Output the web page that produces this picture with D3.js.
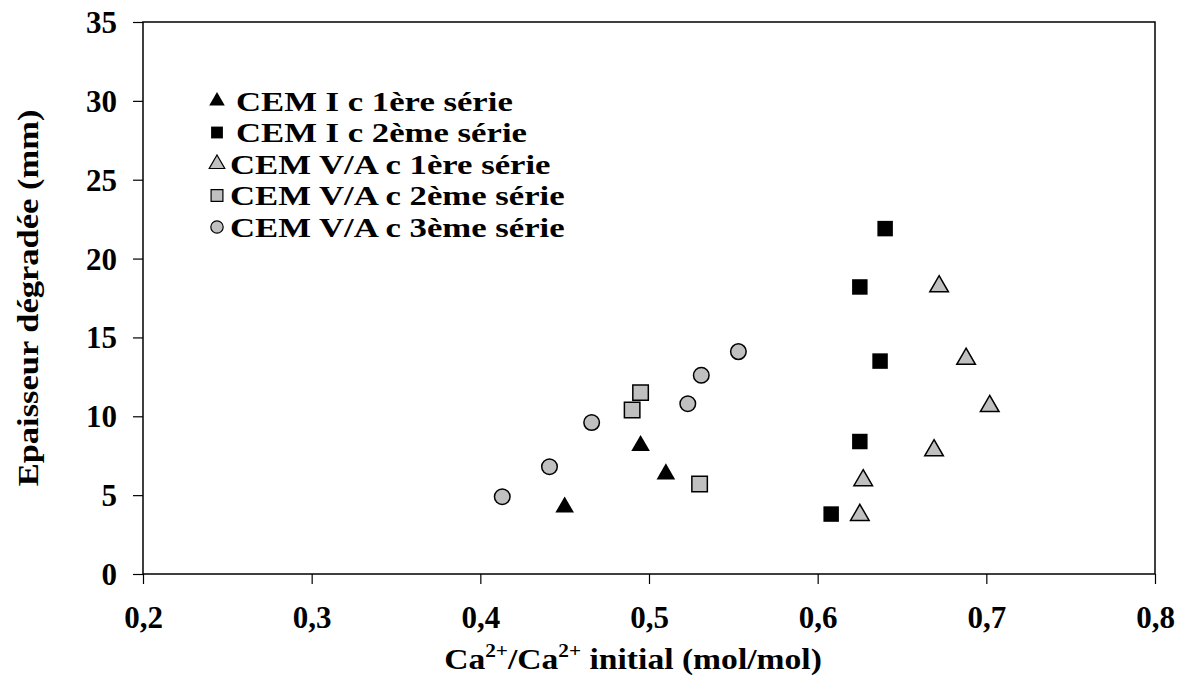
<!DOCTYPE html>
<html>
<head>
<meta charset="utf-8">
<script src="https://cdn.jsdelivr.net/npm/d3@7"></script>
<style>
	body { margin: 0; background: #fff; }
	text { font-family: "Liberation Serif", "Times New Roman", serif; font-weight: bold; fill: #000; }
</style>
</head>
<body>
<div id="chart"></div>
<script>
// series names
var seriesNames = ["CEM I c 1ère série", "CEM I c 2ème série", "CEM V/A c 1ère série", "CEM V/A c 2ème série", "CEM V/A c 3ème série"];

// values: [Ca2+/Ca2+ initial, thickness mm]
var cemI_1 = [[0.450, 4.3], [0.495, 8.2], [0.510, 6.4]];
var cemI_2 = [[0.640, 21.9], [0.625, 18.2], [0.637, 13.5], [0.625, 8.4], [0.608, 3.8]];
var cemVA_1 = [[0.672, 18.3], [0.688, 13.7], [0.702, 10.7], [0.669, 7.9], [0.627, 6.0], [0.625, 3.8]];
var cemVA_2 = [[0.495, 11.5], [0.490, 10.4], [0.530, 5.7]];
var cemVA_3 = [[0.413, 4.9], [0.441, 6.8], [0.466, 9.6], [0.523, 10.8], [0.531, 12.6], [0.553, 14.1]];

var xTicks = [0.2, 0.3, 0.4, 0.5, 0.6, 0.7, 0.8];
var yTicks = [0, 5, 10, 15, 20, 25, 30, 35];

var series = [
	{ name: seriesNames[0], data: cemI_1, shape: d3.symbolTriangle, fill: "#000" },
	{ name: seriesNames[1], data: cemI_2, shape: d3.symbolSquare, fill: "#000" },
	{ name: seriesNames[2], data: cemVA_1, shape: d3.symbolTriangle, fill: "#c0c0c0" },
	{ name: seriesNames[3], data: cemVA_2, shape: d3.symbolSquare, fill: "#c0c0c0" },
	{ name: seriesNames[4], data: cemVA_3, shape: d3.symbolCircle, fill: "#c0c0c0" }
];

var svg_width = 1183,
	svg_height = 677;

var plot = { left: 143, right: 1155, top: 22, bottom: 574 };

var xScale = d3.scaleLinear().domain([0.2, 0.8]).range([plot.left, plot.right]);
var yScale = d3.scaleLinear().domain([0, 35]).range([plot.bottom, plot.top]);

var svg = d3.select("#chart").append("svg")
	.attr("width", svg_width)
	.attr("height", svg_height);

// frame
svg.append("rect")
	.attr("x", plot.left).attr("y", plot.top)
	.attr("width", plot.right - plot.left).attr("height", plot.bottom - plot.top)
	.attr("fill", "none").attr("stroke", "#000").attr("stroke-width", 1.5);

// X-axis
var xAxis = d3.axisBottom(xScale).tickValues(xTicks).tickSize(10).tickPadding(22)
	.tickFormat(function(d) { return d3.format(".1f")(d).replace(".", ","); });
var gx = svg.append("g")
	.attr("transform", "translate(0," + plot.bottom + ")")
	.call(xAxis);
gx.select(".domain").remove();
gx.selectAll("line").attr("stroke", "#000").attr("stroke-width", 1.2);
gx.selectAll("text").style("font-size", "31px").attr("dy", "0.71em");

// Y-axis
var yAxis = d3.axisLeft(yScale).tickValues(yTicks).tickSize(10).tickPadding(16);
var gy = svg.append("g")
	.attr("transform", "translate(" + plot.left + ",0)")
	.call(yAxis);
gy.select(".domain").remove();
gy.selectAll("line").attr("stroke", "#000").attr("stroke-width", 1.2);
gy.selectAll("text").style("font-size", "31px").attr("dy", "0.34em");

// axis titles
var xt = svg.append("text")
	.attr("transform", "translate(633,669) scale(1.12,1)")
	.attr("text-anchor", "middle")
	.style("font-size", "30px");
xt.append("tspan").text("Ca");
xt.append("tspan").attr("dy", -12).style("font-size", "19px").text("2+");
xt.append("tspan").attr("dy", 12).text("/Ca");
xt.append("tspan").attr("dy", -12).style("font-size", "19px").text("2+");
xt.append("tspan").attr("dy", 12).text(" initial (mol/mol)");

svg.append("text")
	.attr("transform", "translate(38,298) rotate(-90) scale(1.15,1)")
	.attr("text-anchor", "middle")
	.style("font-size", "30px")
	.text("Epaisseur dégradée (mm)");

// draw points
series.forEach(function(s) {
	var sym = d3.symbol().type(s.shape).size(s.shape === d3.symbolCircle ? 190 : (s.shape === d3.symbolSquare ? 240 : 150));
	svg.selectAll(null)
		.data(s.data)
		.enter()
		.append("path")
		.attr("d", sym)
		.attr("transform", function(d) {
			var dy = s.shape === d3.symbolTriangle ? 1 : 0;
			return "translate(" + xScale(d[0]) + "," + (yScale(d[1]) + dy) + ")";
		})
		.attr("fill", s.fill)
		.attr("stroke", "#000")
		.attr("stroke-width", s.fill === "#000" ? 0 : 1.5);
});

// legend
var legend = svg.selectAll(".legend")
	.data(series)
	.enter()
	.append("g")
	.attr("class", "legend")
	.attr("transform", function(d, i) { return "translate(217," + (101 + i * 31.5) + ")"; });

legend.append("path")
	.attr("d", function(d) {
		var size = d.shape === d3.symbolCircle ? 120 : (d.shape === d3.symbolSquare ? 140 : 105);
		return d3.symbol().type(d.shape).size(size)();
	})
	.attr("fill", function(d) { return d.fill; })
	.attr("stroke", "#000")
	.attr("stroke-width", function(d) { return d.fill === "#000" ? 0 : 1.2; });

legend.append("text")
	.attr("transform", function(d, i) { return "translate(" + (i < 2 ? 19 : 13) + ",0) scale(1.24,1)"; })
	.attr("dy", "0.35em")
	.style("font-size", "28px")
	.text(function(d) { return d.name; });
</script>
</body>
</html>
